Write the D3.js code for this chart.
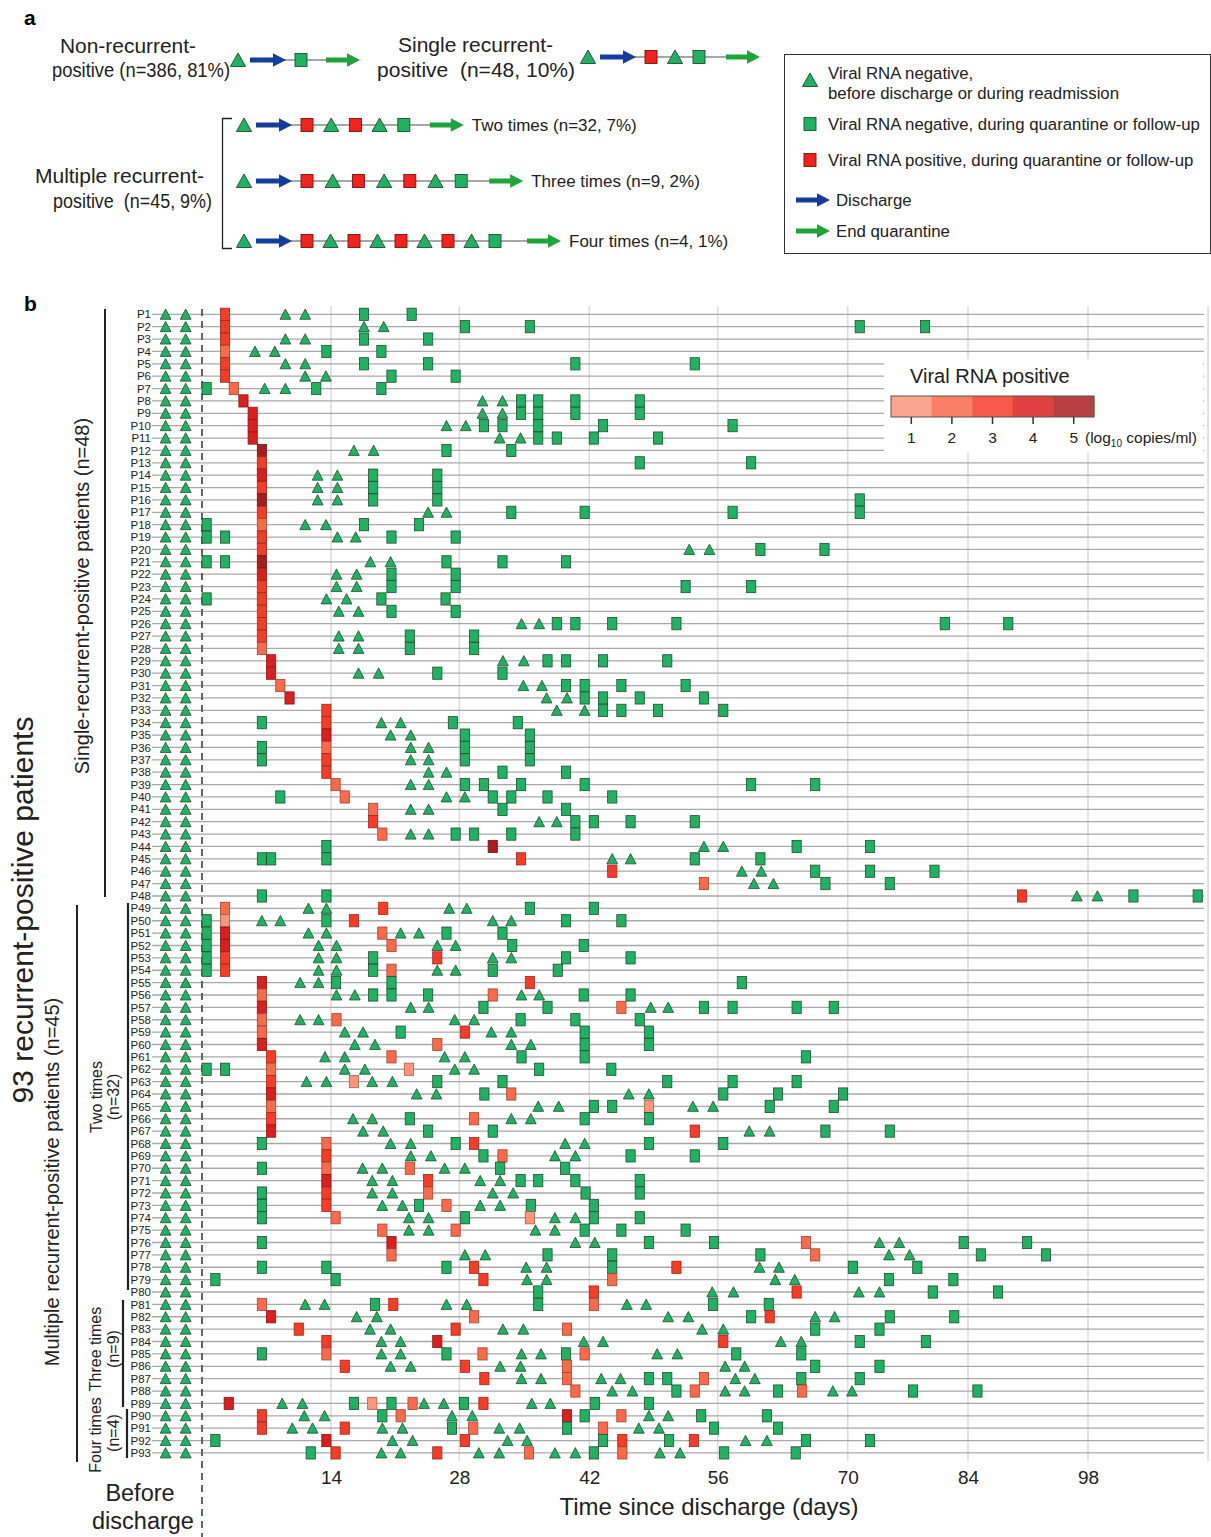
<!DOCTYPE html>
<html><head><meta charset="utf-8">
<script src="https://cdn.jsdelivr.net/npm/d3@7"></script>
<style>body{margin:0;background:#fff}svg{display:block}text{white-space:pre}</style>
</head><body>
<svg id="c" width="1211" height="1537"></svg>
<script>
// ---------------- DATA ----------------
const patients = d3.range(1, 94).map(i => "P" + i);
const dayTicks = [14, 28, 42, 56, 70, 84, 98];
const gridDays = [14, 28, 42, 56, 70, 84, 98, 112];
const beforeTri = [-3.95, -1.77];
const levelTicks = [1, 2, 3, 4, 5];
const levelColors = ["#f9957b", "#f86a4c", "#f43c29", "#d91f1f", "#a81d20"];

// negative RNA (triangles) after discharge, days
const negTri = [
[9.05,11.2],[17.6,19.75],[9.05,11.2],[5.75,7.9],[9.05,11.2],[11.2,13.45],[6.8,9.05],[30.5,32.65],[30.5,32.65],[26.6,28.7],
[32.35,34.6],[16.5,18.65],[],[12.55,14.7],[12.55,14.7],[12.55,14.7],[24.6,26.6],[11.2,13.45],[14.7,16.7],[52.9,55.1],
[18.3,20.5],[14.6,16.8],[14.6,16.8],[13.5,15.7],[14.85,17.0],[34.7,36.6],[14.85,17.0],[14.85,17.0],[32.7,34.95],[17.0,19.2],
[34.9,36.9],[37.4,39.6],[38.5,41.5],[19.5,21.6],[20.5,22.7],[22.7,24.65],[22.7,24.65],[24.65,26.6],[22.7,24.65],[26.6,28.6],
[22.7,24.65],[36.6,38.5],[22.7,24.65],[54.5,56.6],[44.5,46.5],[58.6,60.7],[59.9,62.0],[96.7,99.1],
[11.55,13.5,26.9,28.8],[6.5,8.5,31.6,33.6],[11.55,13.5,21.6,23.6],[12.65,14.6,25.6,27.6],[12.65,14.6,31.6,33.6],[12.65,14.6,25.6,27.6],
[10.65,12.65],[14.6,16.6,34.7,36.6],[22.7,24.65,48.7,50.6],[10.65,12.65,27.5,29.6],[15.5,17.5,31.45,33.6],[16.6,18.8,33.6,35.7],
[13.35,15.5,26.4,28.6],[15.5,17.7,27.5,29.6],[11.35,13.5,18.5,20.7],[23.35,25.5,46.3,48.5],[36.5,38.7,53.3,55.5],[16.4,18.5,33.6,35.7],
[17.5,19.7,59.4,61.6],[20.5,22.7,39.4,41.5],[22.7,24.9,38.3,40.5],[17.45,19.6,26.4,28.6],[18.5,20.7,30.25,32.4],[18.5,20.7,31.6,33.8],
[19.6,21.8,30.25,32.4],[22.5,24.65,38.3,40.5],[22.5,24.65,36.2,38.3],[40.5,42.6,73.7,76.0],[28.6,30.8,74.8,77.2],[35.2,37.4,60.5,62.6],
[35.3,37.4,62.2,64.3],[55.4,57.7,71.3,73.7],
[11.2,13.3,26.6,28.8,46.1,48.2],[16.8,19.0,50.6,52.8,66.5,68.6],[18.25,20.5,32.7,34.9,54.3,56.6],[19.5,21.6,41.4,43.5,62.8,65.0],
[19.5,21.6,34.7,36.8,49.4,51.6],[20.5,22.7,32.4,34.6,56.8,58.9],[34.7,36.8,43.3,45.4,57.9,60.0],[44.5,46.7,56.8,58.9,68.4,70.5],
[8.7,10.9,24.15,26.3,35.8,37.8],
[11.1,13.3,27.2,29.4,48.5,50.6],[9.8,12.0,19.6,21.8,32.3,34.5,47.4,49.6],[20.7,22.9,33.2,35.3,59.0,61.3],[19.5,21.6,30.1,32.3,38.3,40.5,49.7,51.9]
];

// negative RNA (green squares), days
const negSq = [
[17.6,22.8],[28.6,35.6,71.4,79.0],[17.6,24.6],[13.5,19.5],[17.6,24.6,40.5,53.5],[20.6,27.6],[0.5,12.4,19.5],[34.65,36.5,40.5,47.5],
[34.65,36.5,40.5,47.5],[30.65,32.65,36.5,43.5,57.6],[36.5,38.5,42.5,49.5],[26.6,33.6],[47.5,59.6],[18.6,25.6],[18.6,25.6],[18.6,25.6,71.4],
[33.6,41.5,57.6,71.4],[0.5,17.6,23.6],[0.5,2.5,20.6,27.6],[60.6,67.5],[0.5,2.5,26.6,32.65,39.5],[20.6,27.6],[20.6,27.6,52.5,59.6],
[0.5,19.5,26.5],[20.6,27.6],[38.5,40.5,44.5,51.5,81.3,88.7],[22.6,29.6],[22.6,29.6],[37.5,39.5,43.5,50.5],[25.6,32.65],
[39.5,41.5,45.5,52.5],[41.5,43.5,47.5,54.5],[43.5,45.5,49.5,56.6],[6.5,27.3,34.3],[28.6,35.6],[6.5,28.6,35.6],[6.5,28.6,35.6],
[32.65,39.5],[28.6,30.65,34.65,41.5,59.6,66.5],[8.5,31.6,33.6,37.5,44.5],[32.65,39.5],[40.5,42.5,46.5,53.5],[27.6,29.6,33.6,40.5],
[13.5,64.5,72.6],[6.5,7.5,13.5,53.5,60.6],[66.5,72.6,80.1],[67.6,74.9],[6.5,13.5,103.3,110.8],
[35.6,42.5],[0.5,13.5,39.5,45.5],[0.5,26.6,32.65],[0.5,33.7,41.4],[0.5,18.6,39.5,46.5],[0.5,18.6,31.6,38.6],[14.55,20.6,58.6],
[18.6,20.6,24.6,41.4,46.5],[30.6,37.5,54.5,57.6,64.5,68.5],[34.6,40.5,47.5],[21.6,41.5,48.5],[41.5,48.5],[34.7,41.5,65.5],
[0.5,2.5,36.6,44.4],[25.6,32.65,50.5,57.6,64.5],[30.7,56.6,62.5,69.5],[42.5,44.5,61.6,68.5],[22.6,41.5,48.5],[24.6,31.6,67.6,74.9],
[6.5,27.6,48.5,56.6],[30.6,46.5,53.5],[6.5,32.4,39.4],[34.6,36.5,40.5,47.5],[6.5,41.6,47.5],[6.5,23.6,35.7,42.5],[6.5,28.6,42.5,47.5],
[41.5,45.5,52.5],[6.5,48.5,55.6,83.5,90.9],[37.5,44.5,60.6,85.5,93.1],[6.5,13.5,26.6,44.5,70.6,78.1],[1.45,14.5,74.8,82.3],[36.5,79.9,87.5],
[18.8,36.5,55.5,61.5],[59.6,74.9,82.4],[66.5,73.7],[71.4,79.1],[6.5,26.6,39.5,58.0,65.0],[66.5,73.7],[48.5,50.5,65.0,71.4],
[51.5,62.5,77.6,85.1],[16.5,20.6,28.5,42.6,48.5],
[19.6,41.5,54.2,61.3],[27.2,39.6,55.6,62.5],[1.45,43.5,50.7,65.5,72.6],[11.8,42.5,56.7,64.4]
];

// positive RNA (red squares): [day, log10 copies/ml]
const posSq = [
[[2.5,3]],[[2.5,3]],[[2.5,3]],[[2.5,2]],[[2.5,3]],[[2.5,3]],[[3.45,2]],[[4.5,4]],[[5.5,4]],[[5.5,4]],
[[5.5,4]],[[6.5,5]],[[6.5,3]],[[6.5,4]],[[6.5,3]],[[6.5,5]],[[6.5,3]],[[6.5,2]],[[6.5,3]],[[6.5,3]],
[[6.5,5]],[[6.5,4]],[[6.5,3]],[[6.5,3]],[[6.5,3]],[[6.5,3]],[[6.5,3]],[[6.5,2]],[[7.5,4]],[[7.5,4]],
[[8.5,2]],[[9.5,4]],[[13.5,3]],[[13.5,3]],[[13.5,4]],[[13.5,2]],[[13.5,3]],[[13.5,3]],[[14.5,2]],[[15.5,2]],
[[18.6,2]],[[18.6,3]],[[19.6,2]],[[31.6,5]],[[34.65,3]],[[44.5,3]],[[54.5,2]],[[90.3,3]],
[[2.5,2],[19.7,3]],[[2.5,1],[16.5,3]],[[2.5,4],[19.6,2]],[[2.5,4],[20.6,2]],[[2.5,3],[25.6,3]],[[2.5,3],[20.6,2]],
[[6.5,4],[35.6,3]],[[6.5,2],[31.6,2]],[[6.5,4],[45.5,2]],[[6.5,2],[14.6,2]],[[6.5,2],[28.6,3]],[[6.5,4],[25.6,2]],
[[7.5,3],[20.6,2]],[[7.5,2],[22.5,1]],[[7.5,3],[16.5,1]],[[7.5,4],[33.6,2]],[[7.5,2],[48.5,1]],[[7.5,3],[29.6,2]],
[[7.5,4],[53.5,3]],[[13.5,2],[29.6,3]],[[13.5,3],[32.65,2]],[[13.5,2],[22.6,2]],[[13.5,4],[24.6,3]],[[13.5,3],[24.6,2]],
[[13.5,3],[26.6,2]],[[14.5,2],[35.6,1]],[[19.6,2],[27.6,2]],[[20.6,4],[65.5,2]],[[20.6,2],[66.5,2]],[[29.6,3],[51.5,3]],
[[30.6,3],[44.5,2]],[[42.5,3],[64.5,3]],
[[6.5,2],[20.8,3],[42.5,2]],[[7.5,4],[29.6,2],[61.6,3]],[[10.5,3],[27.6,3],[39.6,2]],[[13.5,3],[25.6,4],[56.6,3]],
[[13.5,2],[30.5,2],[41.5,2]],[[15.5,3],[28.6,3],[39.6,2]],[[30.7,3],[39.6,2],[54.5,2]],[[40.5,2],[53.5,2],[65.1,2]],
[[2.9,4],[18.5,1],[22.9,2],[30.6,3]],
[[6.5,3],[21.6,2],[39.6,4],[45.5,2]],[[6.5,3],[15.5,3],[29.5,2],[43.5,2]],[[13.5,4],[28.6,3],[45.6,3],[53.4,3]],
[[14.5,3],[25.6,3],[35.5,2],[45.6,2]]
];

// panel a schematic sequences (T: negative, R: positive, G: negative in quarantine)
const schemeRows = [
  {y: 60,  tx: 238, step: 24,   endGap: 25, seq: ["G"], label: null},
  {y: 57,  tx: 588, step: 24,   endGap: 27, seq: ["R","T","G"], label: null},
  {y: 125, tx: 244, step: 24.2, endGap: 26, seq: ["R","T","R","T","G"], label: "Two times (n=32, 7%)"},
  {y: 181, tx: 244, step: 25.7, endGap: 28, seq: ["R","T","R","T","R","T","G"], label: "Three times (n=9, 2%)"},
  {y: 241, tx: 244, step: 23.5, endGap: 32, seq: ["R","T","R","T","R","T","R","T","G"], label: "Four times (n=4, 1%)"}
];

// ---------------- DRAW ----------------
const FONT = '"Liberation Sans", Arial, Helvetica, sans-serif';
const GREEN = "#22b163", GSTROKE = "#1f4d33";
const BLUE = "#163c9c", AGREEN = "#1fa33b", REDA = "#f0231e";
const svg = d3.select("#c").style("font-family", FONT);

const levelColor = d3.scaleOrdinal().domain(levelTicks).range(levelColors);
const x = d3.scaleLinear().domain([0,14,28,42,56,70,84,98,112]).range([202,331,459.3,589.3,717.7,847.7,968,1088,1208]);
const y = d3.scaleBand().domain(patients).range([308.1, 1459.1]);
const yc = p => y(p) + y.bandwidth() / 2;

const triPath = "M0,-5.3L5.4,5L-5.4,5Z";
const triPathBig = "M0,-7L7.6,6.5L-7.6,6.5Z";

function arrow(g, x0, x1, yv, color) {
  const hw = 2.6, hh = 6.8, hl = 13;
  g.append("path")
    .attr("d", `M${x0},${yv-hw}L${x1-hl},${yv-hw}L${x1-hl},${yv-hh}L${x1},${yv}L${x1-hl},${yv+hh}L${x1-hl},${yv+hw}L${x0},${yv+hw}Z`)
    .attr("fill", color);
}
function sym(g, type, cx, cy, big) {
  if (type === "T") {
    g.append("path").attr("d", big ? triPathBig : triPath).attr("transform", `translate(${cx},${cy})`)
      .attr("fill", GREEN).attr("stroke", GSTROKE).attr("stroke-width", 0.9);
  } else {
    const w = 12, h = 13;
    g.append("rect").attr("x", cx - w/2).attr("y", cy - h/2).attr("width", w).attr("height", h)
      .attr("fill", type === "G" ? GREEN : REDA).attr("stroke", type === "G" ? GSTROKE : "#7a1010").attr("stroke-width", 0.9);
  }
}

// ---------- panel a ----------
const pa = svg.append("g");
pa.append("text").attr("x", 24).attr("y", 25).attr("font-size", 21).attr("font-weight", "bold").text("a");
const bigT = [
  ["Non-recurrent-", 60, 53, 136], ["positive (n=386, 81%)", 52, 77, 178],
  ["Single recurrent-", 398, 52, 155], ["positive  (n=48, 10%)", 377, 77, 198],
  ["Multiple recurrent-", 35, 183, 169], ["positive  (n=45, 9%)", 53, 208, 159]
];
bigT.forEach(([t, tx, ty, len]) => pa.append("text").attr("x", tx).attr("y", ty).attr("font-size", 20)
  .attr("textLength", len).attr("lengthAdjust", "spacingAndGlyphs").attr("fill", "#222").text(t));

schemeRows.forEach(r => {
  const a0 = r.tx + 12, a1 = r.tx + 48;
  const pos = r.seq.map((s, k) => r.tx + 63 + k * r.step);
  const last = pos[pos.length - 1];
  const e0 = last + r.endGap, e1 = e0 + 34;
  pa.append("line").attr("x1", a1 - 2).attr("x2", e0 + 2).attr("y1", r.y).attr("y2", r.y).attr("stroke", "#8a8a8a").attr("stroke-width", 1.6);
  sym(pa, "T", r.tx, r.y, true);
  arrow(pa, a0, a1, r.y, BLUE);
  r.seq.forEach((s, k) => sym(pa, s, pos[k], r.y, true));
  arrow(pa, e0, e1, r.y, AGREEN);
  if (r.label) pa.append("text").attr("x", e1 + 8).attr("y", r.y + 6).attr("font-size", 17).attr("fill", "#222").text(r.label);
});
// bracket
pa.append("path").attr("d", "M232,118.5H222.5V248.5H232").attr("fill", "none").attr("stroke", "#222").attr("stroke-width", 1.3);

// legend box
const lg = pa.append("g");
const LF = 16.8;
lg.append("rect").attr("x", 784.5).attr("y", 54.5).attr("width", 426).attr("height", 199).attr("fill", "#fff").attr("stroke", "#333").attr("stroke-width", 1);
sym(lg, "T", 810, 80, true);
lg.append("text").attr("x", 828).attr("y", 79).attr("font-size", LF).attr("fill", "#222").text("Viral RNA negative,");
lg.append("text").attr("x", 828).attr("y", 99).attr("font-size", LF).attr("fill", "#222").text("before discharge or during readmission");
sym(lg, "G", 810, 124, true);
lg.append("text").attr("x", 828).attr("y", 130).attr("font-size", LF).attr("fill", "#222").text("Viral RNA negative, during quarantine or follow-up");
sym(lg, "R", 810, 160, true);
lg.append("text").attr("x", 828).attr("y", 166).attr("font-size", LF).attr("fill", "#222").text("Viral RNA positive, during quarantine or follow-up");
arrow(lg, 796, 830, 200, BLUE);
lg.append("text").attr("x", 836).attr("y", 206).attr("font-size", LF).attr("fill", "#222").text("Discharge");
arrow(lg, 796, 830, 231, AGREEN);
lg.append("text").attr("x", 836).attr("y", 237).attr("font-size", LF).attr("fill", "#222").text("End quarantine");

// ---------- panel b ----------
const pb = svg.append("g");
pb.append("text").attr("x", 24).attr("y", 311).attr("font-size", 21).attr("font-weight", "bold").text("b");

// vertical grid
pb.append("g").selectAll("line").data(gridDays).join("line")
  .attr("x1", d => x(d)).attr("x2", d => x(d)).attr("y1", 306).attr("y2", 1461)
  .attr("stroke", "#dcdcdc").attr("stroke-width", 1.6);
// row lines
pb.append("g").selectAll("line").data(patients).join("line")
  .attr("x1", 152).attr("x2", 1204).attr("y1", d => yc(d)).attr("y2", d => yc(d))
  .attr("stroke", "#a9a9a9").attr("stroke-width", 1.3);
// row labels
pb.append("g").selectAll("text").data(patients).join("text")
  .attr("x", 151).attr("y", d => yc(d)).attr("dy", "0.36em").attr("text-anchor", "end")
  .attr("font-size", 11.5).attr("fill", "#222").text(d => d);
// discharge dashed line
pb.append("line").attr("x1", x(0)).attr("x2", x(0)).attr("y1", 309).attr("y2", 1537)
  .attr("stroke", "#555").attr("stroke-width", 1.8).attr("stroke-dasharray", "7,5");

// color legend (white box)
const cl = pb.append("g");
cl.append("rect").attr("x", 884).attr("y", 359).attr("width", 319).attr("height", 94).attr("fill", "#fff");
cl.append("text").attr("x", 910).attr("y", 383).attr("font-size", 20).attr("fill", "#222").text("Viral RNA positive");
const cb = d3.scaleBand().domain(levelTicks).range([891, 1094]);
cl.selectAll("rect.seg").data(levelTicks).join("rect").attr("class", "seg")
  .attr("x", d => cb(d)).attr("y", 396).attr("width", cb.bandwidth() + 0.3).attr("height", 21)
  .attr("fill", d => levelColor(d)).attr("fill-opacity", 0.85);
cl.append("rect").attr("x", 891).attr("y", 396).attr("width", 203).attr("height", 21).attr("fill", "none").attr("stroke", "#555").attr("stroke-width", 1);
cl.selectAll("line.tk").data(levelTicks).join("line").attr("class", "tk")
  .attr("x1", d => cb(d) + cb.bandwidth()/2).attr("x2", d => cb(d) + cb.bandwidth()/2).attr("y1", 417).attr("y2", 424)
  .attr("stroke", "#333").attr("stroke-width", 1.5);
cl.selectAll("text.tl").data(levelTicks).join("text").attr("class", "tl")
  .attr("x", d => cb(d) + cb.bandwidth()/2).attr("y", 443).attr("text-anchor", "middle").attr("font-size", 15.5).attr("fill", "#222").text(d => d);
const unit = cl.append("text").attr("x", 1085).attr("y", 443).attr("font-size", 15.5).attr("fill", "#222");
unit.append("tspan").text("(log");
unit.append("tspan").attr("font-size", 10).attr("dy", 4).text("10");
unit.append("tspan").attr("dy", -4).text(" copies/ml)");

// markers
const mk = pb.append("g");
patients.forEach((p, i) => {
  const cy = yc(p);
  beforeTri.forEach(d => mk.append("path").attr("d", triPath).attr("transform", `translate(${x(d)},${cy})`)
    .attr("fill", GREEN).attr("stroke", GSTROKE).attr("stroke-width", 0.8));
  negTri[i].forEach(d => mk.append("path").attr("d", triPath).attr("transform", `translate(${x(d)},${cy})`)
    .attr("fill", GREEN).attr("stroke", GSTROKE).attr("stroke-width", 0.8));
  negSq[i].forEach(d => mk.append("rect").attr("x", x(d) - 4.6).attr("y", cy - 6.1).attr("width", 9.2).attr("height", 12.2)
    .attr("fill", GREEN).attr("stroke", GSTROKE).attr("stroke-width", 0.8));
  posSq[i].forEach(([d, v]) => mk.append("rect").attr("x", x(d) - 4.6).attr("y", cy - 6.1).attr("width", 9.2).attr("height", 12.2)
    .attr("fill", levelColor(v)).attr("stroke", d3.color(levelColor(v)).darker(1.2)).attr("stroke-width", 0.8));
});

// x axis labels
const ax = pb.append("g").attr("transform", "translate(0,1463)")
  .call(d3.axisBottom(x).tickValues(dayTicks).tickSize(0).tickPadding(8));
ax.select(".domain").remove();
ax.selectAll("text").attr("font-size", 19).attr("fill", "#222").attr("font-family", FONT);

pb.append("text").attr("x", 140).attr("y", 1501).attr("text-anchor", "middle").attr("font-size", 23.5).attr("fill", "#222").text("Before");
pb.append("text").attr("x", 143).attr("y", 1529).attr("text-anchor", "middle").attr("font-size", 23.5).attr("fill", "#222").text("discharge");
pb.append("text").attr("x", 709).attr("y", 1515).attr("text-anchor", "middle").attr("font-size", 24).attr("fill", "#222").text("Time since discharge (days)");

// group annotations
function vtext(cx, cy, t, size) {
  pb.append("text").attr("transform", `translate(${cx},${cy}) rotate(-90)`).attr("text-anchor", "middle")
    .attr("dominant-baseline", "central").attr("font-size", size).attr("fill", "#222").text(t);
}
function vline(xv, y1, y2, w) {
  pb.append("line").attr("x1", xv).attr("x2", xv).attr("y1", y1).attr("y2", y2).attr("stroke", "#222").attr("stroke-width", w);
}
vtext(22, 910, "93 recurrent-positive patients", 30);
vtext(82, 596, "Single-recurrent-positive patients (n=48)", 20);
vline(105, 309, 897, 2);
vtext(52, 1182, "Multiple recurrent-positive patients (n=45)", 20);
vline(77, 905, 1462, 2);
vline(128, 903, 1290, 2.2);
vtext(96, 1097, "Two times", 16); vtext(113, 1097, "(n=32)", 16);
vline(123, 1300, 1407, 2.2);
vtext(95, 1349, "Three times", 16); vtext(113, 1349, "(n=9)", 16);
vline(127, 1409, 1458, 2.2);
vtext(95, 1435, "Four times", 16); vtext(113, 1433, "(n=4)", 16);
</script>
</body></html>
